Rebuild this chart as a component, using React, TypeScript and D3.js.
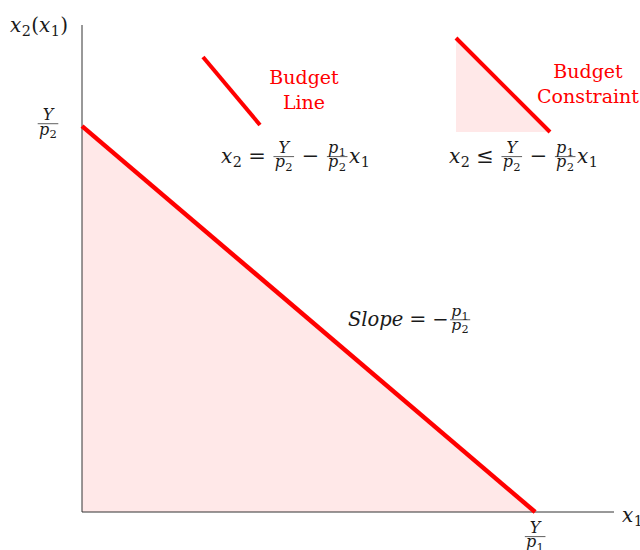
import React, { useEffect, useRef } from "react";
import * as d3 from "d3";

// Budget parameters (abstract units)
const INCOME = [10];
const PRICES = [1, 1]; // p1, p2
const X_DOMAIN = [0, 11.74];
const Y_DOMAIN = [0, 12.62];
const LABEL_BUDGET_LINE = ["Budget", "Line"];
const LABEL_BUDGET_CONSTRAINT = ["Budget", "Constraint"];

const FONT = "'DejaVu Serif', serif";
const RED = "#ff0000";
const INK = "#1a1a1a";

type Part =
  | { t: string; it?: boolean }
  | { sub: string }
  | { op: string }
  | { frac: [Part[], Part[]] };

function layout(g: any, parts: Part[], x: number, base: number, size: number): number {
  for (const p of parts as any[]) {
    if (p.t !== undefined) {
      const el = g.append("text").attr("x", x).attr("y", base).attr("font-size", size)
        .attr("font-family", FONT).attr("fill", INK).attr("font-style", p.it ? "italic" : "normal").text(p.t);
      x += (el.node() as SVGTextElement).getComputedTextLength();
    } else if (p.sub !== undefined) {
      const el = g.append("text").attr("x", x + size * 0.02).attr("y", base + size * 0.2).attr("font-size", size * 0.72)
        .attr("font-family", FONT).attr("fill", INK).text(p.sub);
      x += (el.node() as SVGTextElement).getComputedTextLength() + size * 0.04;
    } else if (p.op !== undefined) {
      x += size * 0.3;
      const el = g.append("text").attr("x", x).attr("y", base).attr("font-size", size * 1.05)
        .attr("font-family", FONT).attr("fill", INK).text(p.op);
      x += (el.node() as SVGTextElement).getComputedTextLength() + size * 0.3;
    } else if (p.frac) {
      const fs = size * 0.8;
      const ng = g.append("g");
      const dg = g.append("g");
      const wN = layout(ng, p.frac[0], 0, 0, fs);
      const wD = layout(dg, p.frac[1], 0, 0, fs);
      const W = Math.max(wN, wD) + size * 0.12;
      const axis = base - size * 0.32;
      x += size * 0.08;
      ng.attr("transform", `translate(${x + (W - wN) / 2},${axis - size * 0.17})`);
      dg.attr("transform", `translate(${x + (W - wD) / 2},${axis + fs * 0.68})`);
      g.append("line").attr("x1", x).attr("x2", x + W).attr("y1", axis).attr("y2", axis)
        .attr("stroke", INK).attr("stroke-width", 0.7);
      x += W + size * 0.08;
    }
  }
  return x;
}

function drawMath(svg: any, parts: Part[], x0: number, base: number, size: number, anchor = "start") {
  const g = svg.append("g");
  const w = layout(g, parts, 0, base, size);
  const dx = anchor === "middle" ? x0 - w / 2 : x0;
  g.attr("transform", `translate(${dx},0)`);
}

export default function App() {
  const ref = useRef<SVGSVGElement | null>(null);

  useEffect(() => {
    const svg = d3.select(ref.current);
    svg.selectAll("*").remove();

    const x = d3.scaleLinear().domain(X_DOMAIN).range([82, 614]);
    const y = d3.scaleLinear().domain(Y_DOMAIN).range([512, 25]);

    const Y = INCOME[0];
    const [p1, p2] = PRICES;
    const pts: [number, number][] = [[0, Y / p2], [Y / p1, 0]];
    const area: [number, number][] = [[0, 0], [0, Y / p2], [Y / p1, 0]];

    // feasible set
    svg.append("path")
      .attr("d", d3.line<[number, number]>().x(d => x(d[0])).y(d => y(d[1]))(area) + "Z")
      .attr("fill", RED).attr("fill-opacity", 0.09);

    // axes
    svg.append("line").attr("x1", x(0)).attr("x2", x(X_DOMAIN[1])).attr("y1", y(0)).attr("y2", y(0))
      .attr("stroke", "#333").attr("stroke-width", 1);
    svg.append("line").attr("x1", x(0)).attr("x2", x(0)).attr("y1", y(0)).attr("y2", y(Y_DOMAIN[1]))
      .attr("stroke", "#333").attr("stroke-width", 1);

    // budget line
    svg.append("path")
      .attr("d", d3.line<[number, number]>().x(d => x(d[0])).y(d => y(d[1]))(pts))
      .attr("stroke", RED).attr("stroke-width", 4.5).attr("fill", "none");

    // legend: budget line
    svg.append("line").attr("x1", 203).attr("y1", 57).attr("x2", 260).attr("y2", 125)
      .attr("stroke", RED).attr("stroke-width", 4);
    LABEL_BUDGET_LINE.forEach((s, i) => {
      svg.append("text").attr("x", 304).attr("y", 84 + i * 25).attr("text-anchor", "middle")
        .attr("font-family", FONT).attr("font-size", 19).attr("fill", RED).text(s);
    });

    // legend: budget constraint
    svg.append("path").attr("d", "M456,38L456,132L550,132Z").attr("fill", RED).attr("fill-opacity", 0.09);
    svg.append("line").attr("x1", 456).attr("y1", 38).attr("x2", 550).attr("y2", 132)
      .attr("stroke", RED).attr("stroke-width", 4);
    LABEL_BUDGET_CONSTRAINT.forEach((s, i) => {
      svg.append("text").attr("x", 588).attr("y", 78 + i * 25).attr("text-anchor", "middle")
        .attr("font-family", FONT).attr("font-size", 19).attr("fill", RED).text(s);
    });

    const fY2: Part = { frac: [[{ t: "Y", it: true }], [{ t: "p", it: true }, { sub: "2" }]] };
    const fY1: Part = { frac: [[{ t: "Y", it: true }], [{ t: "p", it: true }, { sub: "1" }]] };
    const fP: Part = { frac: [[{ t: "p", it: true }, { sub: "1" }], [{ t: "p", it: true }, { sub: "2" }]] };

    drawMath(svg, [{ t: "x", it: true }, { sub: "2" }, { op: "=" }, fY2, { op: "−" }, fP, { t: "x", it: true }, { sub: "1" }], 221, 163, 20);
    drawMath(svg, [{ t: "x", it: true }, { sub: "2" }, { op: "≤" }, fY2, { op: "−" }, fP, { t: "x", it: true }, { sub: "1" }], 449, 163, 20);
    drawMath(svg, [{ t: "Slope", it: true }, { op: "=" }, { t: "−" }, fP], 348, 326, 19.5);

    // axis labels
    drawMath(svg, [{ t: "x", it: true }, { sub: "2" }, { t: "(" }, { t: "x", it: true }, { sub: "1" }, { t: ")" }], 10, 32, 20);
    drawMath(svg, [{ t: "x", it: true }, { sub: "1" }], 622, 522, 20);

    // tick labels
    drawMath(svg, [fY2], x(0) - 34, y(Y / p2) + 4, 20, "middle");
    drawMath(svg, [fY1], x(Y / p1), y(0) + 31, 20, "middle");
  }, []);

  return (
    <svg ref={ref} width={640} height={550} style={{ position: "absolute", left: 0, top: 0, background: "#fff" }} />
  );
}
